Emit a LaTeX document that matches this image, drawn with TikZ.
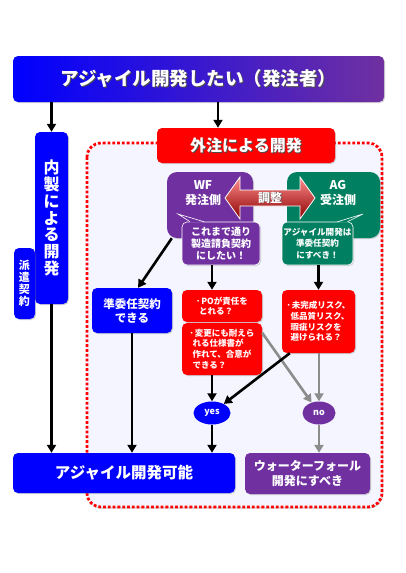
\documentclass[tikz,border=0pt]{standalone}
\usepackage{fontspec}
\setmainfont{Noto Sans CJK JP}
\usetikzlibrary{arrows.meta, shadows, shapes.geometric, calc}
\definecolor{agBlue}{HTML}{0000FF}
\definecolor{wfPurple}{HTML}{7030A0}
\definecolor{agGreen}{HTML}{008060}
\definecolor{outRed}{HTML}{FF0000}
\definecolor{noGray}{HTML}{8C8C8C}
\definecolor{areaFill}{HTML}{F5F5FF}
\newcommand{\shtxt}[1]{\leavevmode\rlap{\kern0.9pt\raisebox{-0.9pt}{\textcolor{black!70}{#1}}}#1}
\newcommand{\qdot}{･\kern1pt}

\tikzset{
  box/.style={rounded corners=5pt, text=white, font=\bfseries, align=center, inner sep=0pt,
    drop shadow={shadow xshift=1pt, shadow yshift=-1pt, opacity=0.35}},
  bluebox/.style={box, fill=agBlue},
  purplebox/.style={box, fill=wfPurple},
  greenbox/.style={box, fill=agGreen},
  redbox/.style={box, fill=outRed},
  qbox/.style={redbox, align=left, font=\bfseries\fontsize{8.5}{10.8}\selectfont},
  note/.style={box, draw=white, line width=0.6pt},
  sidelabel/.style={text=white, align=center, font=\bfseries\fontsize{12}{15}\selectfont},
  answer/.style={ellipse, text=white, inner sep=0pt, font=\bfseries\fontsize{9}{10}\selectfont},
  flow/.style={-{Triangle[length=8pt,width=9pt]}, line width=2.6pt, draw=black},
  grayflow/.style={flow, draw=noGray},
}

\begin{document}
\begin{tikzpicture}[x=1pt, y=-1pt]
  \useasboundingbox (0,0) rectangle (405,573);
  % outsourcing area
  \draw[outRed, line width=2.8pt, dash pattern=on 2.8pt off 2pt, rounded corners=14pt,
    fill=areaFill, drop shadow={shadow xshift=1pt, shadow yshift=-1.5pt, opacity=0.4}]
    (87,143) rectangle (382,507);

  \node[box, left color=agBlue, right color=wfPurple, minimum width=371, minimum height=46,
    font=\bfseries\fontsize{18.5}{22}\selectfont] (title) at (198.5,79)
    {\shtxt{アジャイル開発したい（発注者）}};
  \node[bluebox, minimum width=33, minimum height=172,
    font=\bfseries\fontsize{16}{16.8}\selectfont] (naisei) at (51.5,218)
    {内\\製\\に\\よ\\る\\開\\発};
  \node[bluebox, minimum width=21, minimum height=71,
    font=\bfseries\fontsize{11}{11.8}\selectfont] (haken) at (24.5,283.5)
    {派\\遣\\契\\約};
  \node[redbox, minimum width=178, minimum height=35,
    font=\bfseries\fontsize{16}{18}\selectfont] (gaichu) at (246,145.5)
    {\shtxt{外注による開発}};

  \node[purplebox, minimum width=86, minimum height=66, rounded corners=10pt] (wf) at (210,205) {};
  \node[sidelabel] (wflabel) at (203,193) {WF\\発注側};
  \node[greenbox, minimum width=93, minimum height=66, rounded corners=10pt] (ag) at (333.5,205) {};
  \node[sidelabel] (aglabel) at (338,193) {AG\\受注側};

  % negotiation arrow
  \shade[top color=red!45!white, middle color=red!85!black, bottom color=red!55!black,
    draw=white, line width=0.8pt]
    (225,198) -- (240,177) -- (240,190) -- (300,190) -- (300,177) -- (315,198)
    -- (300,219) -- (300,206) -- (240,206) -- (240,219) -- cycle;
  \node[text=white, font=\bfseries\fontsize{12}{14}\selectfont] (chousei) at (270,198) {\shtxt{調整}};

  \node[note, fill=wfPurple, minimum width=78, minimum height=43,
    font=\bfseries\fontsize{10}{11.7}\selectfont] (wfnote) at (221,243.5)
    {これまで通り\\製造請負契約\\にしたい！};
  \node[note, fill=agGreen, minimum width=71, minimum height=43,
    font=\bfseries\fontsize{8.6}{11.7}\selectfont] (agnote) at (317.5,243.5)
    {アジャイル開発は\\準委任契約\\にすべき！};
  \coordinate (wftip) at (178,214);
  \coordinate (agtip) at (363,214);
  \fill[wfPurple] ([xshift=-31pt, yshift=-1pt]wfnote.north) -- (wftip) -- ([xshift=-17pt, yshift=-1pt]wfnote.north) -- cycle;
  \draw[white, line width=0.6pt] ([xshift=-31pt]wfnote.north) -- (wftip) -- ([xshift=-17pt]wfnote.north);
  \fill[agGreen] ([xshift=20pt, yshift=-1pt]agnote.north) -- (agtip) -- ([xshift=30pt, yshift=-1pt]agnote.north) -- cycle;
  \draw[white, line width=0.6pt] ([xshift=20pt]agnote.north) -- (agtip) -- ([xshift=30pt]agnote.north);

  \node[bluebox, minimum width=80, minimum height=45,
    font=\bfseries\fontsize{11.5}{14}\selectfont] (junin) at (132,310.5)
    {準委任契約\\できる};
  \node[qbox, minimum width=80, minimum height=32] (q1) at (222,306)
    {\qdot POが責任を\\\hspace*{3pt}とれる？};
  \node[qbox, minimum width=80, minimum height=52] (q2) at (222,349)
    {\qdot 変更にも耐えら\\\hspace*{3pt}れる仕様書が\\\hspace*{3pt}作れて、合意が\\\hspace*{3pt}できる？};
  \node[qbox, minimum width=73, minimum height=63] (q3) at (318.5,321.5)
    {\qdot 未完成リスク、\\\hspace*{4pt}低品質リスク、\\\hspace*{4pt}瑕疵リスクを\\\hspace*{4pt}避けられる？};

  \node[answer, fill=agBlue, minimum width=37, minimum height=23] (yes) at (212,413) {yes};
  \node[answer, fill=wfPurple, minimum width=33, minimum height=23] (no) at (319,413) {no};

  \node[bluebox, minimum width=222, minimum height=40,
    font=\bfseries\fontsize{15.5}{18}\selectfont] (kano) at (124,473)
    {アジャイル開発可能};
  \node[purplebox, minimum width=125, minimum height=41,
    font=\bfseries\fontsize{12}{15}\selectfont] (wfdev) at (307.5,473.5)
    {ウォーターフォール\\開発にすべき};

  % connectors
  \coordinate (gin) at ([xshift=-28pt]gaichu.north);
  \draw[flow] (naisei.north |- title.south) -- (naisei.north);
  \draw[flow] (gin |- title.south) -- (gin);
  \draw[flow] (naisei.south) -- (naisei.south |- kano.north);
  \draw[flow] ([xshift=5pt]wf.south west) -- ([xshift=6pt]junin.north);
  \draw[flow] (junin.south) -- (junin.south |- kano.north);
  \draw[flow] (wfnote.south -| yes) -- (q1.north -| yes);
  \draw[flow] (agnote.south -| q3) -- (q3.north);
  \draw[flow] (q2.south -| yes) -- (yes.north);
  \draw[grayflow] ([yshift=-10pt]q2.north east) -- (no);
  \draw[grayflow] (q3.south -| no) -- (no.north);
  \draw[flow] ([xshift=8pt]q3.south west) -- (yes);
  \draw[flow] (yes.south) -- (yes.south |- kano.north);
  \draw[grayflow] (no.south) -- (no.south |- wfdev.north);
\end{tikzpicture}
\end{document}
